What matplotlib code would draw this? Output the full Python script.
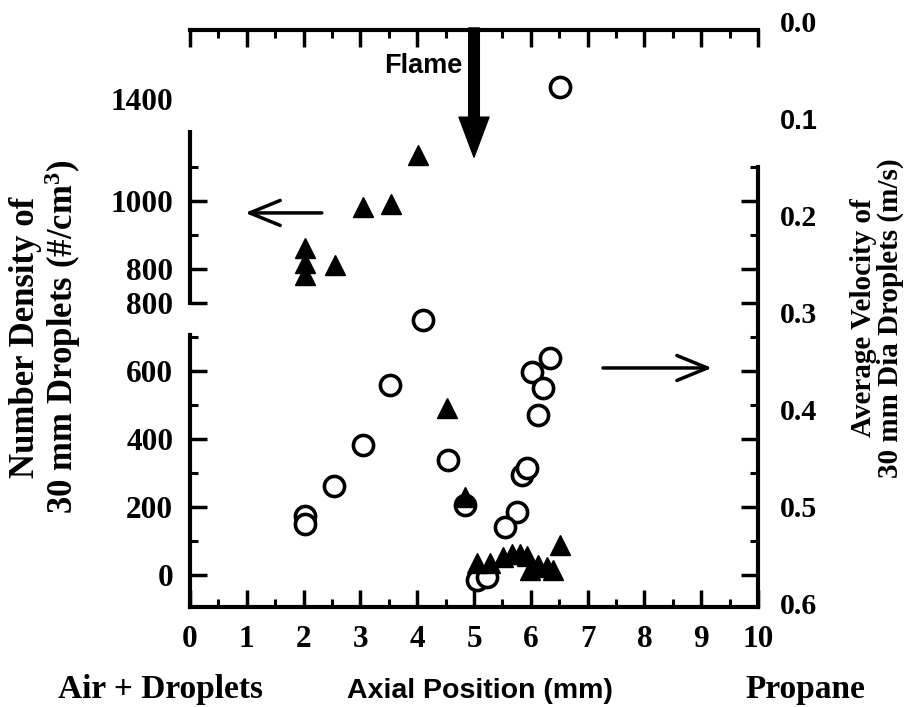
import matplotlib
matplotlib.use('Agg')
import matplotlib.pyplot as plt
import numpy as np

# ---------------- data ----------------
# filled triangles: number density (left axis)
tri_x = [2.02, 2.02, 2.02, 2.55, 3.05, 3.54, 4.01, 4.52, 4.84, 5.05, 5.28,
         5.51, 5.67, 5.81, 5.93, 5.99, 6.13, 6.29, 6.39, 6.51]
tri_density = [962, 918, 882, 912, 1082, 1091, 1235, 491, 229, 35, 35,
               53, 62, 62, 56, 15, 29, 24, 15, 88]

# open circles: average velocity (right axis, inverted)
circ_x = [6.51, 4.10, 3.52, 3.05, 2.54, 2.02, 2.02, 4.54, 4.84, 6.02, 6.34,
          6.21, 6.13, 5.85, 5.93, 5.76, 5.55, 5.05, 5.23]
circ_velocity = [0.067, 0.308, 0.375, 0.437, 0.479, 0.510, 0.518, 0.452, 0.499,
                 0.361, 0.347, 0.378, 0.406, 0.468, 0.461, 0.506, 0.522, 0.576, 0.573]

x_ticks = [0, 1, 2, 3, 4, 5, 6, 7, 8, 9, 10]
x_tick_labels = ['0', '1', '2', '3', '4', '5', '6', '7', '8', '9', '10']
left_tick_pos = [0, 200, 400, 600, 800, 900, 1100, 1400]
left_tick_labels = ['0', '200', '400', '600', '800', '800', '1000', '1400']
left_minor_pos = [100, 300, 500, 700, 1000, 1200]
right_tick_pos = [0.0, 0.1, 0.2, 0.3, 0.4, 0.5, 0.6]
right_tick_labels = ['0.0', '0.1', '0.2', '0.3', '0.4', '0.5', '0.6']

# ---------------- style ----------------
plt.rcParams['mathtext.fontset'] = 'custom'
plt.rcParams['mathtext.rm'] = 'Liberation Serif:bold'
plt.rcParams['mathtext.it'] = 'Liberation Serif:bold:italic'
plt.rcParams['mathtext.bf'] = 'Liberation Serif:bold'

SERIF = 'Liberation Serif'
SANS = 'Liberation Sans'

W, H = 909, 707
fig = plt.figure(figsize=(W / 100, H / 100), dpi=100)
fig.patch.set_facecolor('white')


def fx(px):
    return px / W


def fy(py):
    return 1 - py / H


# right-axis (velocity) axes, sits below main axes
ax_r = fig.add_axes([fx(190), fy(603), fx(758) - fx(190), fy(22) - fy(603)])
ax_r.set_zorder(1)
ax_r.set_xlim(0, 10)
ax_r.set_ylim(0.6, 0.0)
for s in ax_r.spines.values():
    s.set_visible(False)
ax_r.set_xticks([])
ax_r.yaxis.tick_right()
ax_r.set_yticks(right_tick_pos, right_tick_labels)
ax_r.tick_params(axis='y', length=0, pad=16)
for lab in ax_r.get_yticklabels():
    if lab.get_text() == '0.1':
        lab.set_fontfamily(SANS)
        lab.set_fontweight('bold')
        lab.set_fontsize(19.5)
    else:
        lab.set_fontfamily(SERIF)
        lab.set_fontweight('bold')
        lab.set_fontsize(21.5)
ax_r.plot(circ_x, circ_velocity, 'o', mfc='white', mec='black', ms=14.5,
          mew=2.6, clip_on=False, linestyle='none')

# main axes (density)
ax = fig.add_axes([fx(190), fy(607), fx(758) - fx(190), fy(30) - fy(607)])
ax.set_zorder(2)
ax.patch.set_alpha(0)
ax.set_xlim(0, 10)
ax.set_ylim(-94, 1603)

for s in ax.spines.values():
    s.set_linewidth(3)
ax.spines['left'].set_bounds(-94, 706)
ax.spines['right'].set_bounds(-94, 1200)
ax.vlines(0, 794, 1309, color='black', lw=3, clip_on=False, capstyle='butt')

ax.set_xticks(x_ticks, x_tick_labels)
ax.set_xticks(np.arange(0.5, 10, 1.0), minor=True)
ax.set_yticks(left_tick_pos, left_tick_labels)
ax.set_yticks(left_minor_pos, minor=True)
ax.tick_params(axis='both', which='both', direction='in', top=True, right=True)
ax.tick_params(which='major', length=12, width=2.5)
ax.tick_params(which='minor', length=6, width=2.2)
ax.tick_params(axis='y', pad=12)
ax.tick_params(axis='x', pad=13)
for lab in ax.get_xticklabels() + ax.get_yticklabels():
    lab.set_fontfamily(SERIF)
    lab.set_fontweight('bold')
    lab.set_fontsize(22.5)
for loc, t in zip(ax.get_yticks(), ax.yaxis.get_major_ticks()):
    if loc == 1400:
        t.tick1line.set_visible(False)
        t.tick2line.set_visible(False)

ax.plot(tri_x, tri_density, '^', color='black', ms=14.5, clip_on=False,
        linestyle='none')

# arrows
ax.annotate('', xy=(0.97, 1065), xytext=(2.32, 1065),
            arrowprops=dict(arrowstyle='->,head_length=1.1,head_width=0.45',
                            lw=2.5, color='black', mutation_scale=20,
                            shrinkA=0, shrinkB=0), annotation_clip=False)
ax.annotate('', xy=(9.19, 609), xytext=(7.27, 609),
            arrowprops=dict(arrowstyle='->,head_length=1.1,head_width=0.45',
                            lw=2.5, color='black', mutation_scale=20,
                            shrinkA=0, shrinkB=0), annotation_clip=False)
ax.annotate('', xy=(5, 1229), xytext=(5, 1609),
            arrowprops=dict(arrowstyle='simple,head_length=1.2,head_width=0.9,tail_width=0.32',
                            color='black', mutation_scale=24,
                            shrinkA=0, shrinkB=0), annotation_clip=False)

# texts
fig.text(fx(423), fy(73), 'Flame', family=SANS, weight='bold', size=19.5,
         ha='center', va='baseline')
fig.text(fx(160), fy(698), 'Air + Droplets', family=SERIF, weight='bold',
         size=24, ha='center', va='baseline')
fig.text(fx(480), fy(698), 'Axial Position (mm)', family=SANS, weight='bold',
         size=20.5, ha='center', va='baseline')
fig.text(fx(805), fy(698), 'Propane', family=SERIF, weight='bold',
         size=24, ha='center', va='baseline')
fig.text(fx(46), fy(337), 'Number Density of\n30 mm Droplets (#/cm$^{3}$)',
         family=SERIF, weight='bold', size=25, rotation=90, linespacing=1.04,
         ha='center', va='center', multialignment='center')
fig.text(fx(877), fy(318), 'Average Velocity of\n30 mm Dia Droplets (m/s)',
         family=SERIF, weight='bold', size=21, rotation=90, linespacing=1.0,
         ha='center', va='center', multialignment='center')

fig.savefig('out.png', dpi=100, facecolor='white')
